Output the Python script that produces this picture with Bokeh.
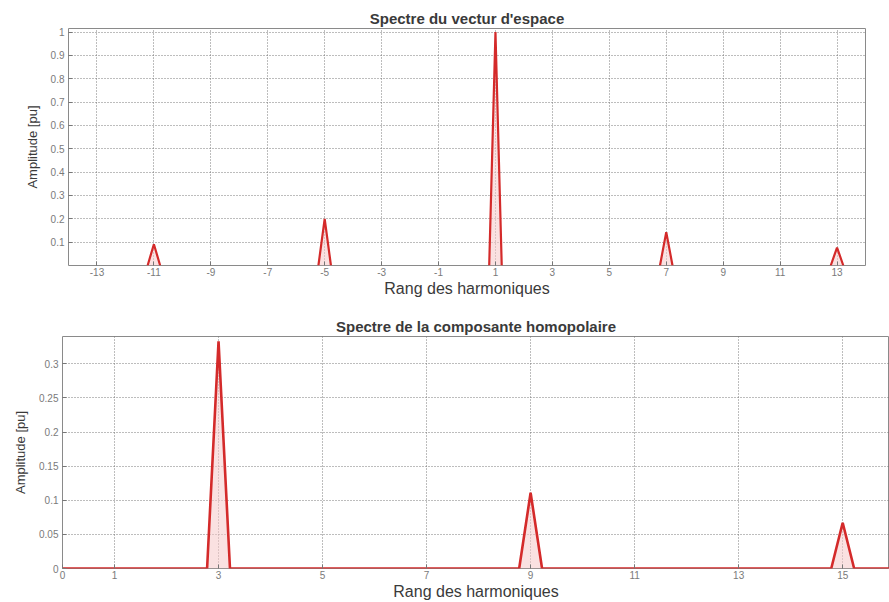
from bokeh.plotting import figure
from bokeh.models import FixedTicker, Range1d
from bokeh.embed import file_html
from bokeh.resources import INLINE

# Spectrum of the space vector (harmonic order -> amplitude in pu)
vec_orders = [-11, -5, 1, 7, 13]
vec_amps = [0.091, 0.2, 1.0, 0.143, 0.077]
vec_xticks = [-13, -11, -9, -7, -5, -3, -1, 1, 3, 5, 7, 9, 11, 13]
vec_yticks = [0.1, 0.2, 0.3, 0.4, 0.5, 0.6, 0.7, 0.8, 0.9, 1.0]
vec_ylabels = ["0.1", "0.2", "0.3", "0.4", "0.5", "0.6", "0.7", "0.8", "0.9", "1"]

# Spectrum of the zero-sequence component
hom_orders = [3, 9, 15]
hom_amps = [0.333, 0.111, 0.067]
hom_xticks = [0, 1, 3, 5, 7, 9, 11, 13, 15]
hom_yticks = [0, 0.05, 0.1, 0.15, 0.2, 0.25, 0.3]
hom_ylabels = ["0", "0.05", "0.1", "0.15", "0.2", "0.25", "0.3"]

HALF = 0.22         # half width of a spectral line (bin spacing)
RED = "#d42a2a"
PINK = "#f6c9c9"
FONT = "Liberation Sans"


def style(p, xticks, yticks, ylabels):
    p.outline_line_color = "#8a8a8a"
    p.outline_line_width = 1
    p.background_fill_color = "white"
    p.border_fill_color = "white"
    p.title.text_font = FONT
    p.title.text_font_size = "15px"
    p.title.text_font_style = "bold"
    p.title.text_color = "#3a3a3a"
    p.title.align = "center"
    p.title.standoff = 3
    for ax in (p.xaxis[0], p.yaxis[0]):
        ax.axis_line_color = None
        ax.major_tick_in = 4
        ax.major_tick_out = 0
        ax.minor_tick_line_color = None
        ax.major_tick_line_color = "#777777"
        ax.major_label_text_font = FONT
        ax.major_label_text_font_size = "10px"
        ax.major_label_text_color = "#7a7a7a"
        ax.axis_label_text_font = FONT
        ax.axis_label_text_font_style = "normal"
        ax.axis_label_text_color = "#3a3a3a"
    p.xaxis[0].ticker = FixedTicker(ticks=xticks)
    p.xaxis[0].major_label_overrides = {t: str(t) for t in xticks}
    p.xaxis[0].major_label_standoff = 2
    p.xaxis[0].axis_label_standoff = 1
    p.xaxis[0].axis_label_text_font_size = "16px"
    p.yaxis[0].ticker = FixedTicker(ticks=yticks)
    p.yaxis[0].major_label_overrides = {t: l for t, l in zip(yticks, ylabels)}
    p.yaxis[0].major_label_standoff = 4
    p.yaxis[0].axis_label_standoff = 8
    p.yaxis[0].axis_label_text_font_size = "13px"
    for g in (p.xgrid[0], p.ygrid[0]):
        g.grid_line_color = "#6e6e6e"
        g.grid_line_dash = "1 2"
        g.grid_line_width = 1
        g.grid_line_alpha = 0.9


# --- top: space vector spectrum ---
p1 = figure(width=889, height=300, output_backend="svg", toolbar_location=None,
            title="Spectre du vectur d'espace",
            x_range=Range1d(-14, 14), y_range=Range1d(0, 1.015),
            min_border_left=68, min_border_right=24,
            min_border_top=28, min_border_bottom=35)
p1.xaxis.axis_label = "Rang des harmoniques"
p1.yaxis.axis_label = "Amplitude [pu]"
style(p1, vec_xticks, vec_yticks, vec_ylabels)

xs1 = [[h - HALF, h, h + HALF] for h in vec_orders]
ys1 = [[0, a, 0] for a in vec_amps]
p1.patches(xs1, ys1, fill_color=PINK, fill_alpha=0.55, line_color=None)
p1.multi_line(xs1, ys1, line_color=RED, line_width=2.2)

# --- bottom: zero-sequence spectrum ---
p2 = figure(width=889, height=302, output_backend="svg", toolbar_location=None,
            title="Spectre de la composante homopolaire",
            x_range=Range1d(0, 15.9), y_range=Range1d(0, 0.34),
            min_border_left=62, min_border_right=0,
            min_border_top=36, min_border_bottom=29)
p2.xaxis.axis_label = "Rang des harmoniques"
p2.yaxis.axis_label = "Amplitude [pu]"
style(p2, hom_xticks, hom_yticks, hom_ylabels)

x2 = [0.0]
y2 = [0.0]
for h, a in zip(hom_orders, hom_amps):
    x2 += [h - HALF, h, h + HALF]
    y2 += [0.0, a, 0.0]
x2.append(16.0)
y2.append(0.0)
p2.varea(x=x2, y1=[0.0] * len(y2), y2=y2, fill_color=PINK, fill_alpha=0.55)
p2.line(x2, y2, line_color=RED, line_width=2.6)

# two independent roots, stacked, so each keeps its own frame geometry
open("out.html", "w").write(file_html([p1, p2], INLINE))
